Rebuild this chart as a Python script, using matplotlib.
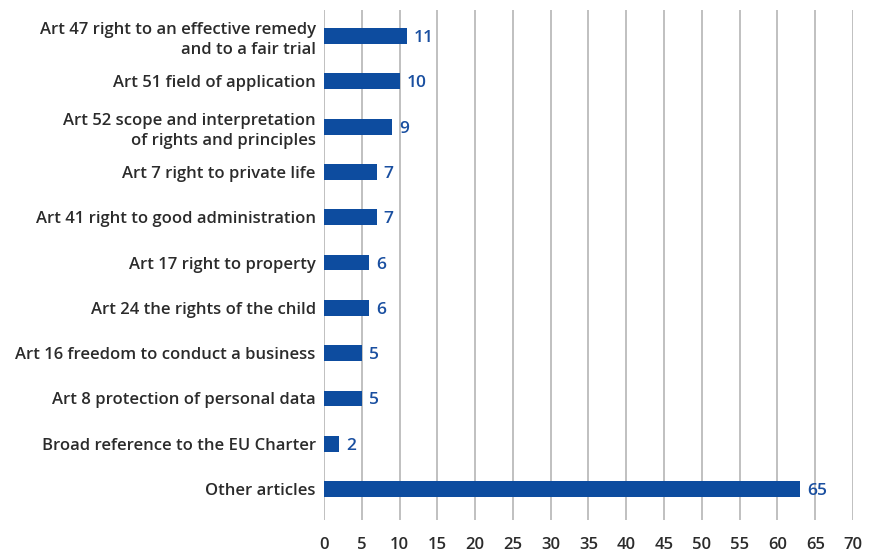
import matplotlib
matplotlib.use("Agg")
from matplotlib import pyplot as plt

categories = [
    "Art 47 right to an effective remedy\nand to a fair trial",
    "Art 51 field of application",
    "Art 52 scope and interpretation\nof rights and principles",
    "Art 7 right to private life",
    "Art 41 right to good administration",
    "Art 17 right to property",
    "Art 24 the rights of the child",
    "Art 16 freedom to conduct a business",
    "Art 8 protection of personal data",
    "Broad reference to the EU Charter",
    "Other articles",
]
# bar lengths as drawn in the picture (the last bar stops short of its label)
values = [11, 10, 9, 7, 7, 6, 6, 5, 5, 2, 63]
value_labels = ["11", "10", "9", "7", "7", "6", "6", "5", "5", "2", "65"]
xticks = list(range(0, 75, 5))

plt.rcParams['font.family'] = ['Open Sans', 'DejaVu Sans']

fig = plt.figure(figsize=(8.78, 5.55), dpi=100)
ax = fig.add_axes([0.369, 0.063, 0.6025, 0.919])

bar_color = '#0d4c9f'
ypos = list(range(len(categories)))
ax.barh(ypos, values, height=0.35, color=bar_color, zorder=3)

for y, v, lab in zip(ypos, values, value_labels):
    ax.text(v + 0.9, y, lab, va='center_baseline', ha='left', fontsize=12.5,
            fontweight='semibold', color='#1a4fa0', zorder=4)

ax.set_xlim(0, 70)
ax.set_ylim(10.684, -0.574)
ax.set_xticks(xticks)
ax.set_yticks(ypos)
ax.set_yticklabels(categories, fontsize=12, fontweight='semibold',
                   color='#2b2b2b', linespacing=1.35)
ax.tick_params(axis='y', length=0, pad=6)
ax.tick_params(axis='x', length=0, pad=12)
for t in ax.get_xticklabels():
    t.set_fontsize(12)
    t.set_fontweight('semibold')
    t.set_color('#2b2b2b')
ax.xaxis.grid(True, color='#b5b5b5', linewidth=1.2, zorder=0)
for s in ax.spines.values():
    s.set_visible(False)

fig.savefig('out.png', dpi=100)
